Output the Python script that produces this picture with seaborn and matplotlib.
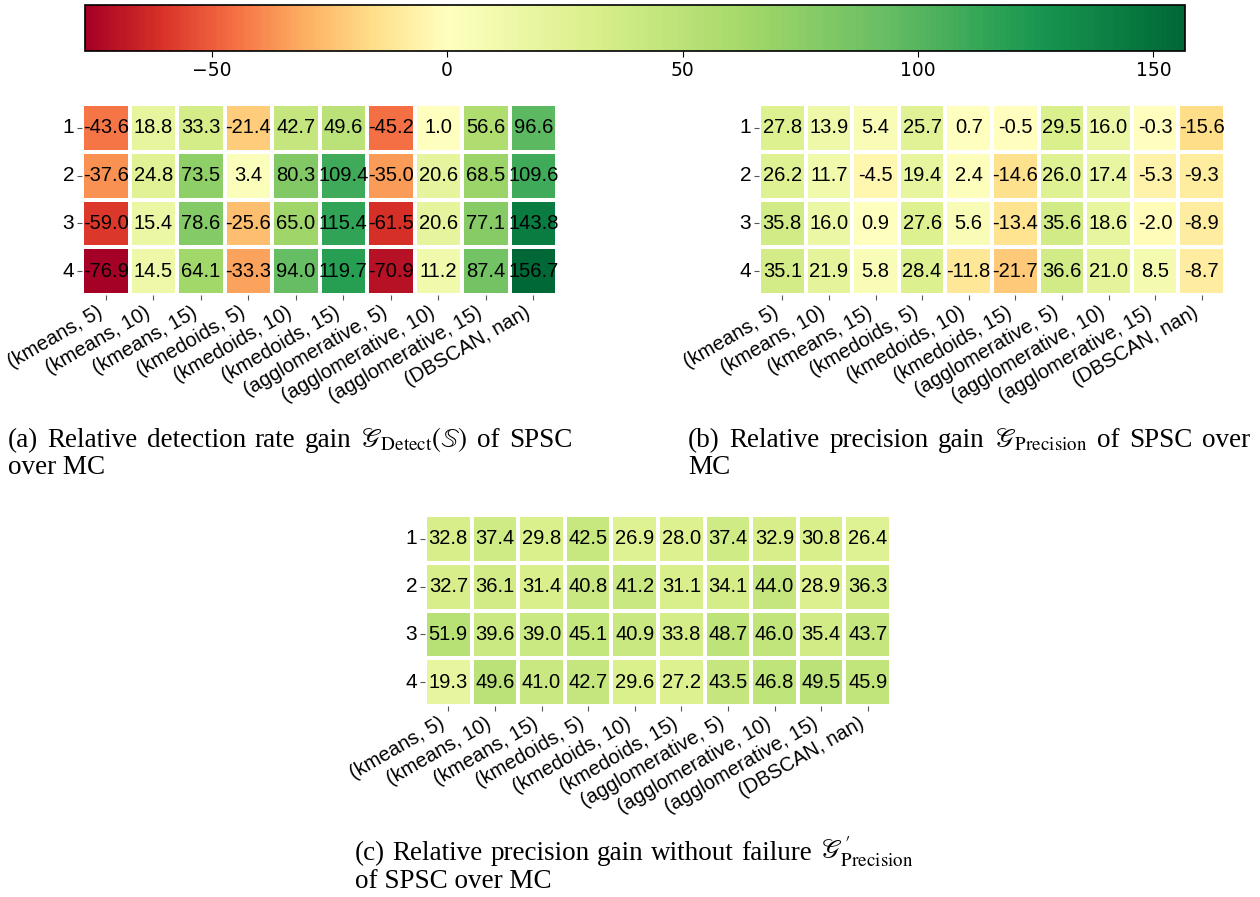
import numpy as np
import pandas as pd
import matplotlib
matplotlib.use("Agg")
import matplotlib.pyplot as plt
from matplotlib.colors import ListedColormap, TwoSlopeNorm
import seaborn as sns

# ---------------- data ----------------
rows = ["1", "2", "3", "4"]
cols = ["(kmeans, 5)", "(kmeans, 10)", "(kmeans, 15)", "(kmedoids, 5)", "(kmedoids, 10)",
        "(kmedoids, 15)", "(agglomerative, 5)", "(agglomerative, 10)", "(agglomerative, 15)",
        "(DBSCAN, nan)"]

detect_gain = [
    [-43.6, 18.8, 33.3, -21.4, 42.7, 49.6, -45.2, 1.0, 56.6, 96.6],
    [-37.6, 24.8, 73.5, 3.4, 80.3, 109.4, -35.0, 20.6, 68.5, 109.6],
    [-59.0, 15.4, 78.6, -25.6, 65.0, 115.4, -61.5, 20.6, 77.1, 143.8],
    [-76.9, 14.5, 64.1, -33.3, 94.0, 119.7, -70.9, 11.2, 87.4, 156.7],
]
precision_gain = [
    [27.8, 13.9, 5.4, 25.7, 0.7, -0.5, 29.5, 16.0, -0.3, -15.6],
    [26.2, 11.7, -4.5, 19.4, 2.4, -14.6, 26.0, 17.4, -5.3, -9.3],
    [35.8, 16.0, 0.9, 27.6, 5.6, -13.4, 35.6, 18.6, -2.0, -8.9],
    [35.1, 21.9, 5.8, 28.4, -11.8, -21.7, 36.6, 21.0, 8.5, -8.7],
]
precision_gain_nofail = [
    [32.8, 37.4, 29.8, 42.5, 26.9, 28.0, 37.4, 32.9, 30.8, 26.4],
    [32.7, 36.1, 31.4, 40.8, 41.2, 31.1, 34.1, 44.0, 28.9, 36.3],
    [51.9, 39.6, 39.0, 45.1, 40.9, 33.8, 48.7, 46.0, 35.4, 43.7],
    [19.3, 49.6, 41.0, 42.7, 29.6, 27.2, 43.5, 46.8, 49.5, 45.9],
]
cbar_ticks = [-50, 0, 50, 100, 150]

# ---------------- style ----------------
plt.rcParams["font.family"] = ["Liberation Sans", "DejaVu Sans"]
plt.rcParams["mathtext.fontset"] = "stix"

W, H = 1260, 897
fig = plt.figure(figsize=(W / 100, H / 100), dpi=100)

def box(x0, y0, x1, y1):
    return [x0 / W, 1 - y1 / H, (x1 - x0) / W, (y1 - y0) / H]

dfa = pd.DataFrame(detect_gain, index=rows, columns=cols)
dfb = pd.DataFrame(precision_gain, index=rows, columns=cols)
dfc = pd.DataFrame(precision_gain_nofail, index=rows, columns=cols)

vmin = float(dfa.values.min())
vmax = float(dfa.values.max())
# diverging colormap centered at 0, drawn linearly on the colorbar
tsn = TwoSlopeNorm(vmin=vmin, vcenter=0.0, vmax=vmax)
base = plt.get_cmap("RdYlGn")
grid = np.linspace(vmin, vmax, 512)
cmap = ListedColormap(base(tsn(grid)))

cax = fig.add_axes(box(85, 5, 1185, 51))
ax_a = fig.add_axes(box(82, 104, 557, 295))
ax_b = fig.add_axes(box(759, 104, 1225, 295))
ax_c = fig.add_axes(box(425, 515, 891, 706))

annot_kws = {"fontsize": 14.5, "color": "black", "family": "Liberation Sans"}

for i, (ax, df) in enumerate([(ax_a, dfa), (ax_b, dfb), (ax_c, dfc)]):
    sns.heatmap(df, ax=ax, cmap=cmap, vmin=vmin, vmax=vmax, annot=True, fmt=".1f",
                annot_kws=annot_kws, linewidths=1.5, linecolor="white",
                cbar=(i == 0), cbar_ax=cax if i == 0 else None,
                cbar_kws={"orientation": "horizontal", "ticks": cbar_ticks} if i == 0 else {})
    ax.set_xlabel("")
    ax.set_ylabel("")
    ax.set_xticklabels(cols, rotation=30, ha="right", fontsize=14.5)
    ax.set_yticklabels(rows, rotation=0, fontsize=15)
    ax.tick_params(axis="both", length=3.5, width=0.8, color="#555555", pad=2)

# colorbar styling
cb = ax_a.collections[0].colorbar
cb.outline.set_edgecolor("black")
cb.outline.set_linewidth(1.2)
cax.tick_params(length=4, width=0.8, labelsize=13.5)
for t in cax.get_xticklabels():
    t.set_fontfamily("DejaVu Sans")

# ---------------- captions ----------------
SERIF = ["Liberation Serif", "DejaVu Serif"]
CAP_FS = 19.5
renderer = fig.canvas.get_renderer()

def justified(words, left, right, baseline):
    texts = [fig.text(0, 1 - baseline / H, w, fontsize=CAP_FS, family=SERIF,
                      va="baseline", ha="left") for w in words]
    widths = [t.get_window_extent(renderer=renderer).width for t in texts]
    gap = (right - left - sum(widths)) / (len(words) - 1)
    x = left
    for t, w in zip(texts, widths):
        t.set_x(x / W)
        x += w + gap

def plain(s, left, baseline):
    fig.text(left / W, 1 - baseline / H, s, fontsize=CAP_FS, family=SERIF,
             va="baseline", ha="left")

justified(["(a)", "Relative", "detection", "rate", "gain",
           r"$\mathscr{G}_{\mathrm{Detect}}(\mathbb{S})$", "of", "SPSC"], 8, 572, 447)
plain("over MC", 8, 474)

justified(["(b)", "Relative", "precision", "gain",
           r"$\mathscr{G}_{\mathrm{Precision}}$", "of", "SPSC", "over"], 688, 1250, 447)
plain("MC", 688, 474)

justified(["(c)", "Relative", "precision", "gain", "without", "failure",
           r"$\mathscr{G}_{\mathrm{Precision}}^{\prime}$"], 355, 913, 860)
plain("of SPSC over MC", 355, 888)

fig.savefig("out.png", dpi=100, facecolor="white")
